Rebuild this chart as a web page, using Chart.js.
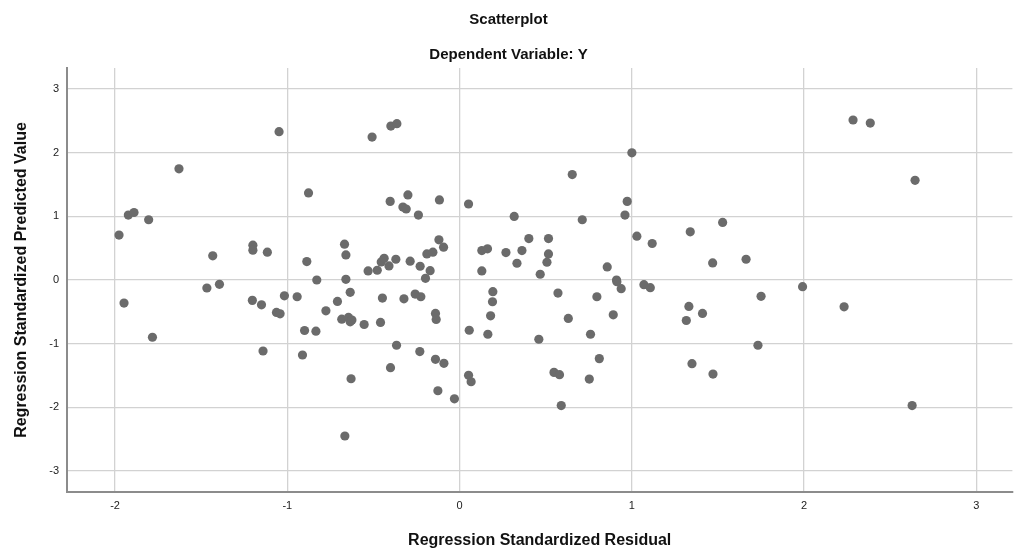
<!DOCTYPE html>
<html>
<head>
<meta charset="utf-8">
<script src="https://cdn.jsdelivr.net/npm/chart.js@4.4.1/dist/chart.umd.min.js"></script>
<style>
  html, body { margin: 0; padding: 0; background: #fff; }
  #wrap { width: 1017px; height: 552px; }
</style>
</head>
<body>
<div id="wrap"><canvas id="c"></canvas></div>
<script>
// standardized residual (x) and standardized predicted value (y)
const residual = [
  -1.048, -1.629, -1.923, -1.890, -1.805, -1.977, -1.433, -1.200, -1.200, -1.116,
  -0.877, -0.887, -0.508, -0.399, -0.364, -0.403, -0.300, -0.329, -0.310, -0.239,
  -0.117, 0.052, 0.317, -0.668, -0.660, -0.829, -0.660, -0.531, -0.478, -0.455,
  -0.438, -0.410, -0.370, -0.287, -0.229, -0.171, -0.198, -0.190, -0.155, -0.120,
  -0.093, 0.129, 0.162, 0.269, 0.362, 0.402, 0.516, 0.333, 0.516, 0.507,
  0.129, 0.468, 1.000, 0.654, 0.973, 0.960, 0.712, 1.029, 1.118, 1.339,
  1.527, 1.469, 1.663, 0.857, 0.911, 2.284, 2.384, 2.644, -1.948, -1.783,
  -1.467, -1.394, -1.203, -1.150, -1.017, -0.943, -1.063, -1.042, -0.900, -1.141,
  -0.912, -0.635, -0.709, -0.776, -0.834, -0.684, -0.645, -0.635, -0.625, -0.554,
  -0.459, -0.448, -0.323, -0.258, -0.225, -0.140, -0.136, -0.366, -0.231, -0.140,
  -0.091, -0.401, -0.630, -0.126, -0.030, 0.052, 0.067, -0.666, 0.056, 0.193,
  0.191, 0.180, 0.164, 0.460, 0.913, 0.938, 1.070, 1.107, 0.571, 0.797,
  0.631, 0.892, 0.760, 0.811, 0.548, 0.580, 0.753, 0.590, 1.331, 1.410,
  1.316, 1.750, 1.732, 1.349, 1.471, 1.991, 2.232, 2.627
];
const predicted = [
  2.330, 1.746, 1.020, 1.060, 0.946, 0.705, 0.379, 0.547, 0.468, 0.437,
  1.367, 0.289, 2.245, 2.418, 2.456, 1.235, 1.336, 1.146, 1.115, 1.020,
  1.257, 1.194, 0.999, 0.563, 0.394, 0.000, 0.010, 0.142, 0.153, 0.284,
  0.342, 0.221, 0.326, 0.295, 0.216, 0.147, 0.027, 0.410, 0.437, 0.631,
  0.516, 0.462, 0.489, 0.431, 0.462, 0.651, 0.651, 0.263, 0.410, 0.279,
  0.142, 0.090, 1.998, 1.656, 1.235, 1.020, 0.946, 0.689, 0.573, 0.757,
  0.904, 0.268, 0.326, 0.205, 0.000, 2.513, 2.465, 1.566, -0.363, -0.899,
  -0.126, -0.068, -0.320, -0.390, -0.248, -0.263, -0.510, -0.531, -0.793, -1.115,
  -1.178, -0.194, -0.336, -0.484, -0.804, -0.615, -0.588, -0.657, -0.630, -0.699,
  -0.667, -0.284, -0.295, -0.221, -0.263, -0.525, -0.620, -1.025, -1.125, -1.246,
  -1.309, -1.377, -1.551, -1.740, -1.866, -1.498, -1.598, -2.450, -0.789, -0.184,
  -0.342, -0.563, -0.852, -0.931, -0.027, -0.137, -0.074, -0.121, -0.205, -0.263,
  -0.604, -0.547, -0.852, -1.235, -1.451, -1.487, -1.556, -1.972, -0.415, -0.525,
  -0.636, -0.257, -1.025, -1.314, -1.478, -0.105, -0.421, -1.972
];
const xTicks = [-2, -1, 0, 1, 2, 3];
const yTicks = [-3, -2, -1, 0, 1, 2, 3];

const points = residual.map((r, i) => ({ x: r, y: predicted[i] }));

const gridCol = "#d2d2d2";
const axisCol = "#8c8c8c";
const tickFont = { family: "Liberation Sans, Arial, sans-serif", size: 11 };
const titleFont = { family: "Liberation Sans, Arial, sans-serif", size: 15, weight: "bold" };
const axisTitleFont = { family: "Liberation Sans, Arial, sans-serif", size: 16, weight: "bold" };

new Chart(document.getElementById("c"), {
  type: "scatter",
  data: {
    datasets: [{
      data: points,
      backgroundColor: "#6b6b6b",
      borderWidth: 0,
      pointRadius: 4.6,
      pointHoverRadius: 4.6
    }]
  },
  options: {
    responsive: true,
    maintainAspectRatio: false,
    animation: false,
    layout: { padding: 0 },
    plugins: {
      legend: { display: false },
      tooltip: { enabled: false },
      title: {
        display: true,
        text: "Scatterplot",
        color: "#111",
        font: titleFont,
        padding: { top: 11, bottom: 17 }
      },
      subtitle: {
        display: true,
        text: "Dependent Variable: Y",
        color: "#111",
        font: titleFont,
        padding: { top: 0, bottom: 4 }
      }
    },
    scales: {
      x: {
        type: "linear",
        min: -2.279,
        max: 3.209,
        afterBuildTicks: s => { s.ticks = xTicks.map(v => ({ value: v })); },
        afterFit: s => { s.height = 60; },
        ticks: { color: "#222", font: tickFont, padding: 7, callback: v => String(v) },
        grid: { color: gridCol, lineWidth: 1.3, drawTicks: false },
        border: { color: axisCol, width: 2 },
        title: {
          display: true,
          text: "Regression Standardized Residual",
          color: "#111",
          font: axisTitleFont,
          padding: { top: 0, bottom: 2 }
        }
      },
      y: {
        type: "linear",
        min: -3.33,
        max: 3.33,
        afterBuildTicks: s => { s.ticks = yTicks.map(v => ({ value: v })); },
        afterFit: s => { s.width = 67; },
        ticks: { color: "#222", font: tickFont, padding: 8, callback: v => String(v) },
        grid: { color: gridCol, lineWidth: 1.3, drawTicks: false },
        border: { color: axisCol, width: 2 },
        title: {
          display: true,
          text: "Regression Standardized Predicted Value",
          color: "#111",
          font: axisTitleFont,
          padding: { top: 12, bottom: 0 }
        }
      }
    }
  }
});
</script>
</body>
</html>
